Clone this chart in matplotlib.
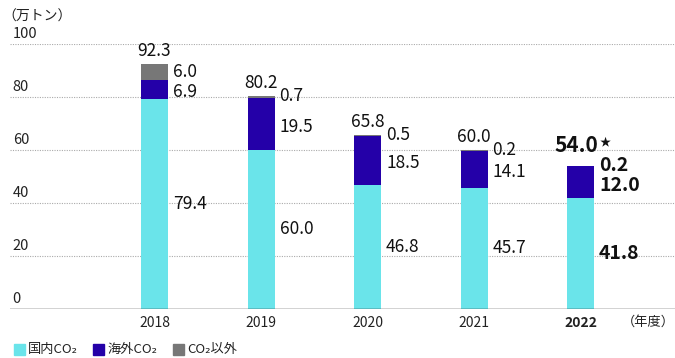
import numpy as np
import matplotlib.pyplot as plt
from matplotlib.patches import Rectangle
from matplotlib.transforms import blended_transform_factory, offset_copy

plt.rcParams['font.family'] = ['Noto Sans CJK JP', 'DejaVu Sans']

# データ（万トン）
years = ['2018', '2019', '2020', '2021', '2022']
domestic = [79.4, 60.0, 46.8, 45.7, 41.8]
overseas = [6.9, 19.5, 18.5, 14.1, 12.0]
other = [6.0, 0.7, 0.5, 0.2, 0.2]
totals = [92.3, 80.2, 65.8, 60.0, 54.0]
yticks = [0, 20, 40, 60, 80, 100]
legend_labels = ['国内CO₂', '海外CO₂', 'CO₂以外']

c_dom = '#6ae4ea'
c_ovs = '#2400a8'
c_oth = '#777777'

fig = plt.figure(figsize=(6.75, 3.58), dpi=100)
ax = fig.add_axes([10 / 675, 49 / 358, 665 / 675, 265 / 358])

x = np.arange(len(years))
w = 0.254
dom = np.array(domestic)
ovs = np.array(overseas)
oth = np.array(other)

ax.bar(x, dom, w, color=c_dom, zorder=2)
ax.bar(x, ovs, w, bottom=dom, color=c_ovs, zorder=2)
ax.bar(x, oth, w, bottom=dom + ovs, color=c_oth, zorder=2)

ax.set_xlim(-1.357, 4.887)
ax.set_ylim(0, 100)
ax.axis('off')

# 目盛線と目盛ラベル
trans_y = blended_transform_factory(ax.transAxes, ax.transData)
for t in yticks:
    if t == 0:
        ax.axhline(0, color='#222222', lw=1.0, zorder=3)
    else:
        ax.axhline(t, color='#aaaaaa', lw=0.8, ls=(0, (1, 1.2)), zorder=1)
    ax.text(0.004, t, str(t), transform=offset_copy(trans_y, fig=fig, y=3, units='dots'),
            ha='left', va='bottom', fontsize=10.5, color='#222222')

ax.text(0.0, 1.0, '（万トン）', transform=offset_copy(ax.transAxes, fig=fig, x=-8, y=20, units='dots'),
        ha='left', va='bottom', fontsize=10, color='#222222')

# 年度ラベル
for i, y in enumerate(years):
    bold = i == len(years) - 1
    ax.text(i, 0, y, transform=offset_copy(ax.transData, fig=fig, y=-7, units='dots'),
            ha='center', va='top', fontsize=10, color='#222222',
            fontweight='bold' if bold else 'normal')
ax.text(1.0, 0, '（年度）', transform=offset_copy(trans_y, fig=fig, y=-7, units='dots'),
        ha='right', va='top', fontsize=9.5, color='#222222')

# 数値ラベル
for i in x:
    last = i == len(years) - 1
    fs = 14 if last else 12.5
    fw = 'bold' if last else 'normal'
    xr = i + w / 2
    right = offset_copy(ax.transData, fig=fig, x=5, units='dots')
    ax.text(xr, dom[i] / 2, f'{dom[i]:.1f}', transform=right, ha='left', va='center',
            fontsize=fs, fontweight=fw, color='#111111')
    ovs_mid = offset_copy(ax.transData, fig=fig, x=5, y=-3, units='dots')
    ax.text(xr, dom[i] + ovs[i] / 2, f'{ovs[i]:.1f}', transform=ovs_mid, ha='left', va='center',
            fontsize=fs, fontweight=fw, color='#111111')
    top = dom[i] + ovs[i] + oth[i]
    oth_y = dom[i] + ovs[i] + oth[i] / 2 if oth[i] > 2 else top
    ax.text(xr, oth_y, f'{oth[i]:.1f}', transform=right, ha='left', va='center',
            fontsize=fs, fontweight=fw, color='#111111')
    gap = 10 if last else 4
    ax.text(i, top, f'{totals[i]:.1f}', transform=offset_copy(ax.transData, fig=fig, x=-4 if last else 0, y=gap, units='dots'),
            ha='center', va='bottom', fontsize=15 if last else fs, fontweight=fw, color='#111111')
    if last:
        ax.text(i, top, '★', transform=offset_copy(ax.transData, fig=fig, x=19, y=gap + 9, units='dots'),
                ha='left', va='bottom', fontsize=8, color='#111111')

# 凡例
leg_x = [14, 93, 173]
for lx, lab, c in zip(leg_x, legend_labels, [c_dom, c_ovs, c_oth]):
    fig.patches.append(Rectangle((lx / 675, 3 / 358), 11 / 675, 11 / 358,
                                 transform=fig.transFigure, color=c, figure=fig))
    fig.text((lx + 14) / 675, 8.5 / 358, lab, ha='left', va='center', fontsize=9.5, color='#222222')

fig.savefig('out.png', dpi=100)
